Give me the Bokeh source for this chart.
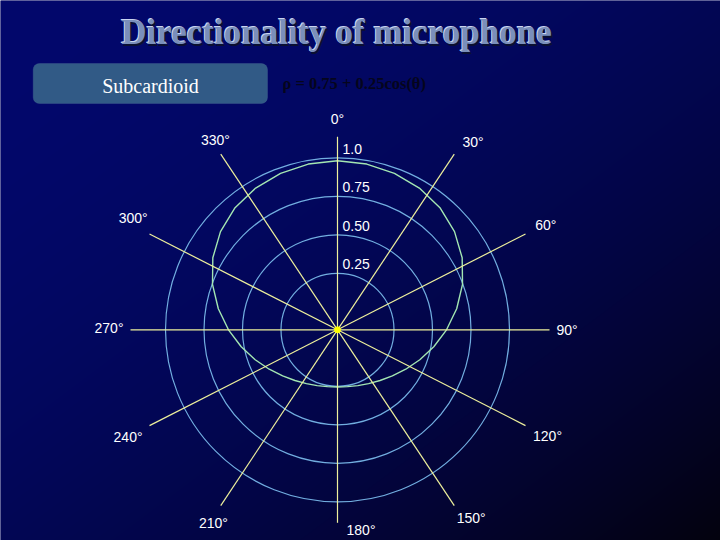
import re
import numpy as np
from bokeh.plotting import figure
from bokeh.models import Range1d, BoxAnnotation
from bokeh.core.properties import value
from bokeh.embed import file_html
from bokeh.resources import INLINE

# ---------------- data ----------------
title_text = "Directionality of microphone"
pattern_name = "Subcardioid"
formula_text = "ρ = 0.75 + 0.25cos(θ)"

ring_values = [0.25, 0.50, 0.75, 1.0]
ring_labels = ["0.25", "0.50", "0.75", "1.0"]

angle_labels = ["0°", "30°", "60°", "90°", "120°", "150°",
                "180°", "210°", "240°", "270°", "300°", "330°"]
# spoke directions as drawn (degrees clockwise from top)
spoke_angles = [0, 33.6, 63, 90, 117, 146.4, 180, 213.6, 243, 270, 297, 326.4]

# subcardioid response (ring-scale units), 0..180 deg
curve_angles = [0, 10, 20, 30, 40, 50, 60, 70, 80, 90,
                100, 110, 120, 130, 140, 150, 160, 170, 180]
curve_values = [0.981, 0.976, 0.964, 0.946, 0.918, 0.875, 0.818, 0.747, 0.669, 0.591,
                0.518, 0.452, 0.395, 0.348, 0.313, 0.287, 0.269, 0.258, 0.255]

# ---------------- layout (pixel-like plot units) ----------------
R_OFF, R_SCALE = 18.0, 154.0          # radial axis: value -> radius
def R(v):
    return R_OFF + R_SCALE * np.asarray(v, dtype=float)

spoke_len = [193, 211, 211, 212, 211, 211, 193, 211, 211, 207, 211, 211]
label_dir = [0, 35.8, 63.4, 90, 116.9, 144.6, 173.3, 212.7, 242.9, 270.5, 298.6, 327.3]
label_rad = [211, 231.7, 233, 229.5, 235.5, 230.7, 201.6, 229.6, 235.3, 228.5, 232.8, 226]

W, H = 720, 540
CX, CY = 337.0, 329.3                 # centre in figure pixels
p = figure(width=W, height=H, output_backend="svg", toolbar_location=None,
           x_range=Range1d(-CX, W - CX), y_range=Range1d(-(H - CY), CY),
           min_border=0, x_axis_location=None, y_axis_location=None)
p.grid.visible = False
p.outline_line_color = None
p.background_fill_color = "#02075e"
p.border_fill_color = "#02075e"

# background gradient
py, px = np.mgrid[0:H, 0:W]
u = px / 720.0
w = py / 540.0
t = np.clip((u + w) / 2.0, 0, 1) ** 2
img = np.empty((H, W), dtype=np.uint32)
v8 = img.view(dtype=np.uint8).reshape((H, W, 4))
v8[:, :, 0] = (2 + 2 * t).astype(np.uint8)
v8[:, :, 1] = (8 * (1 - t) + 2 * t).astype(np.uint8)
v8[:, :, 2] = (108 * (1 - t) + 14 * t).astype(np.uint8)
v8[:, :, 3] = 255
img = img[::-1]
bg = p.image_rgba(image=[img], x=-CX, y=-(H - CY), dw=W, dh=H)
bg.level = "image"

def at(X, Y):
    return X - CX, CY - Y

# title (embossed)
tx, ty = at(336, 32)
for dx, dy, col in [(1.5, -1.5, "#0b1030"), (-1, 1, "#c9d4f0"), (0, 0, "#7a8fbb")]:
    p.text(x=[tx + dx], y=[ty + dy], text=[title_text], text_font=value("Liberation Serif"),
           text_font_style="bold", text_font_size="35px", text_color=col,
           text_align="center", text_baseline="middle")

# label box
l, t_ = at(32.7, 63)
r_, b = at(267, 103)
p.add_layout(BoxAnnotation(left=l, right=r_, top=t_, bottom=b,
                           fill_color="#315a86", fill_alpha=1, line_color="#4b6e98",
                           line_width=1, border_radius=6, level="underlay"))
nx, ny = at(150, 85)
p.text(x=[nx], y=[ny], text=[pattern_name], text_font=value("Liberation Serif"),
       text_font_size="20px", text_color="white", text_align="center", text_baseline="middle")
fx, fy = at(282, 83)
p.text(x=[fx], y=[fy], text=[formula_text], text_font=value("Liberation Serif"),
       text_font_style="bold", text_font_size="16.5px", text_color="#05051c",
       text_align="left", text_baseline="middle")

# rings
p.circle(x=[0] * len(ring_values), y=[0] * len(ring_values), radius=R(ring_values),
         fill_alpha=0, line_color="#72aee0", line_width=1.2)

# response curve (mirror the 0..180 reading onto 180..360)
ang = np.array(curve_angles + [360 - a for a in curve_angles[::-1]], dtype=float)
val = np.array(curve_values + curve_values[::-1], dtype=float)
rr = R(val)
p.line(x=rr * np.sin(np.radians(ang)), y=rr * np.cos(np.radians(ang)),
       line_color="#a3e6b2", line_width=1.4, line_join="round")

# spokes
sa = np.radians(spoke_angles)
sl = np.array(spoke_len, dtype=float)
p.segment(x0=np.zeros(len(sa)), y0=np.zeros(len(sa)), x1=sl * np.sin(sa), y1=sl * np.cos(sa),
          line_color="#eef09c", line_width=1.2)
p.scatter(x=[0], y=[0], size=6, color="#ffff00")

# angle labels
la = np.radians(label_dir)
lr = np.array(label_rad, dtype=float)
p.text(x=lr * np.sin(la), y=lr * np.cos(la), text=angle_labels,
       text_font=value("Liberation Sans"), text_font_size="14px", text_color="white",
       text_align="center", text_baseline="middle")

# radial labels
p.text(x=[5] * len(ring_values), y=R(ring_values) + 9, text=ring_labels,
       text_font=value("Liberation Sans"), text_font_size="14px", text_color="white",
       text_align="left", text_baseline="middle")

html = file_html(p, INLINE)
html = re.sub(r"<body([^>]*)>", r'<body\1 style="background-color:#02075e;">', html, count=1)
open("out.html", "w").write(html)
